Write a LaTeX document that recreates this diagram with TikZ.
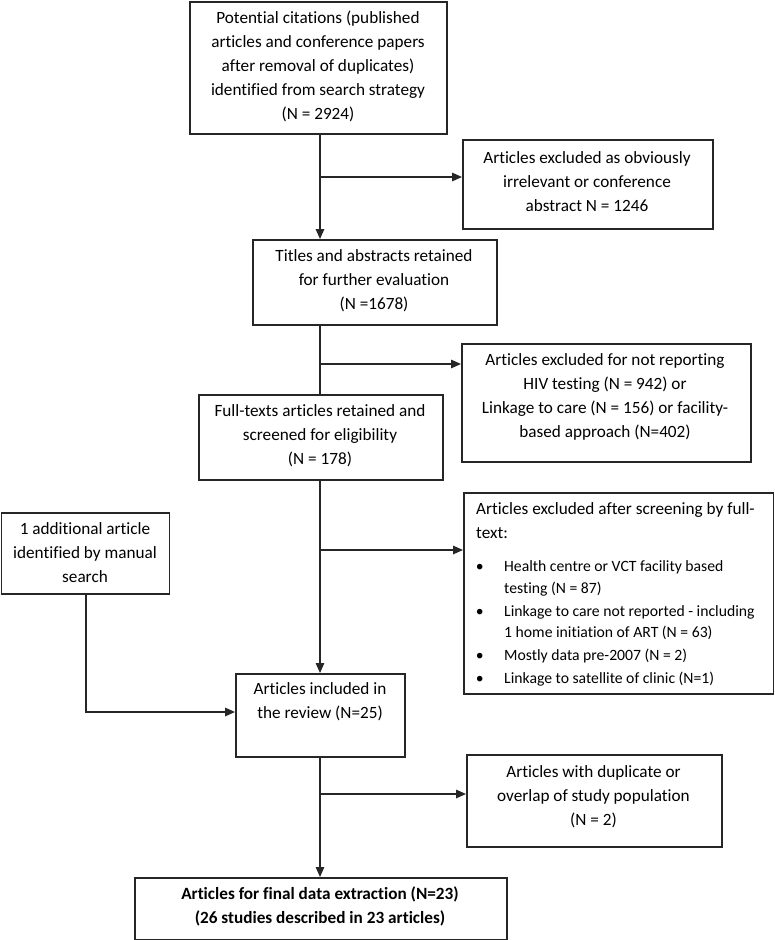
\documentclass[tikz,border=0pt]{standalone}
\usepackage{fontspec}
\setmainfont{Carlito}[Ligatures=CommonOff]
\usetikzlibrary{arrows.meta}
\newcommand\smallbul{\fontsize{15.7}{22}\selectfont}
\begin{document}
\begin{tikzpicture}[x=1pt,y=-1pt,
  frame/.style={draw=black!85, line width=1.5pt, rectangle, inner sep=0pt, anchor=north west},
  lbl/.style={align=center, inner sep=0pt, font=\fontsize{17.2}{24}\selectfont},
  arr/.style={draw=black!85, line width=1.5pt, -{Triangle[length=10pt,width=8.5pt]}},
  ln/.style={draw=black!85, line width=1.5pt}]
\useasboundingbox (0,0) rectangle (774,940);

% boxes
\node[frame, minimum width=257pt, minimum height=132pt] (b1) at (189,1) {};
\node[frame, minimum width=250pt, minimum height=89pt] (e1) at (462,139) {};
\node[frame, minimum width=244pt, minimum height=85pt] (b2) at (252,239) {};
\node[frame, minimum width=289pt, minimum height=118pt] (e2) at (461,343) {};
\node[frame, minimum width=244pt, minimum height=85pt] (b3) at (198,394) {};
\node[frame, minimum width=168pt, minimum height=81pt] (side) at (0.8,512) {};
\node[frame, minimum width=309.5pt, minimum height=201pt] (e3) at (463,492) {};
\node[frame, minimum width=169pt, minimum height=83pt] (b4) at (235,673) {};
\node[frame, minimum width=255pt, minimum height=92pt] (e4) at (466,754) {};
\node[frame, minimum width=372pt, minimum height=62pt] (b5) at (134,877) {};

% texts
\node[lbl] (t1) at (318,66) {Potential citations (published\\articles and conference papers\\after removal of duplicates)\\identified from search strategy\\(N = 2924)};
\node[lbl] (te1) at (587,182) {Articles excluded as obviously\\irrelevant or conference\\abstract N = 1246};
\node[lbl] (t2) at (374,281) {Titles and abstracts retained\\for further evaluation\\(N =1678)};
\node[lbl] (te2) at (605,397) {Articles excluded for not reporting\\HIV testing (N = 942) or\\Linkage to care (N = 156) or facility-\\based approach (N=402)};
\node[lbl] (t3) at (320,435.5) {Full-texts articles retained and\\screened for eligibility\\(N = 178)};
\node[lbl] (ts) at (85,553) {1 additional article\\identified by manual\\search};
\node[lbl] (t4) at (320,702) {Articles included in\\the review (N=25)};
\node[lbl] (te4) at (593.5,796.5) {Articles with duplicate or\\overlap of study population\\(N = 2)};
\node[lbl, font=\fontsize{17.2}{24}\selectfont\bfseries] (t5) at (320,906) {Articles for final data extraction (N=23)\\(26 studies described in 23 articles)};
\node[inner sep=0pt, align=left, anchor=north west, font=\fontsize{17.2}{24}\selectfont] (te3) at (476,502) {%
Articles excluded after screening by full-\\
text:\\[9.5pt]
{\smallbul\makebox[7pt][c]{\textbullet}\hspace{21pt}Health centre or VCT facility based}\\[-2pt]
{\smallbul\hspace*{28pt}testing (N = 87)}\\[-1pt]
{\smallbul\makebox[7pt][c]{\textbullet}\hspace{21pt}Linkage to care not reported - including}\\[-3pt]
{\smallbul\hspace*{28pt}1 home initiation of ART (N = 63)}\\[-1pt]
{\smallbul\makebox[7pt][c]{\textbullet}\hspace{21pt}Mostly data pre-2007 (N = 2)}\\[-1pt]
{\smallbul\makebox[7pt][c]{\textbullet}\hspace{21pt}Linkage to satellite of clinic (N=1)}};

% connectors
\coordinate (tr) at (320,0);
\coordinate (j1) at (320,177);
\coordinate (j2) at (320,364);
\coordinate (j3) at (320,550);
\coordinate (j4) at (320,794);
\coordinate (js) at (86,712);

\draw[arr] (b1.south -| tr) -- (b2.north -| tr);
\draw[arr] (j1) -- (j1 -| e1.west);
\draw[ln] (b2.south -| tr) -- (b3.north -| tr);
\draw[arr] (j2) -- (j2 -| e2.west);
\draw[arr] (b3.south -| tr) -- (b4.north -| tr);
\draw[arr] (j3) -- (j3 -| e3.west);
\draw[arr] (side.south -| js) -- (js) -- (js -| b4.west);
\draw[arr] (b4.south -| tr) -- (b5.north -| tr);
\draw[arr] (j4) -- (j4 -| e4.west);
\end{tikzpicture}
\end{document}
